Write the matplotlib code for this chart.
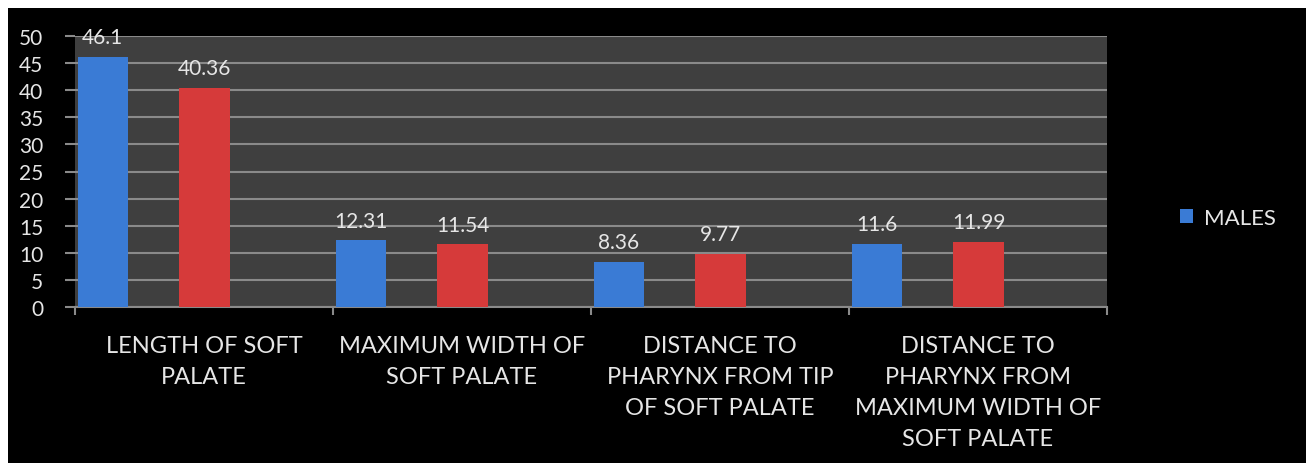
import matplotlib
matplotlib.use("Agg")
import matplotlib.pyplot as plt
from matplotlib.patches import Rectangle
import numpy as np

# datos
categories = [
    "LENGTH OF SOFT\nPALATE",
    "MAXIMUM WIDTH OF\nSOFT PALATE",
    "DISTANCE TO\nPHARYNX FROM TIP\nOF SOFT PALATE",
    "DISTANCE TO\nPHARYNX FROM\nMAXIMUM WIDTH OF\nSOFT PALATE",
]
males = [46.1, 12.31, 8.36, 11.6]
females = [40.36, 11.54, 9.77, 11.99]
male_labels = ["46.1", "12.31", "8.36", "11.6"]
female_labels = ["40.36", "11.54", "9.77", "11.99"]
yticks = [0, 5, 10, 15, 20, 25, 30, 35, 40, 45, 50]

plt.rcParams['font.family'] = ['Lato', 'DejaVu Sans']
txt_color = '#e6e6e6'
grid_color = '#8a8a8a'

fig = plt.figure(figsize=(13.06, 4.64), dpi=100)
fig.patch.set_facecolor('white')

# fondo negro (con borde blanco arriba e izquierda)
bg = Rectangle((8 / 1306, 0), 1 - 8 / 1306, (464 - 9) / 464, transform=fig.transFigure,
               facecolor='black', edgecolor='none', zorder=-10)
fig.patches.append(bg)

ax = fig.add_axes([75 / 1306, (464 - 308) / 464, (1107 - 75) / 1306, (308 - 37) / 464])
ax.set_facecolor('#3f3f3f')

x = np.arange(len(categories))
w = 0.195
bm = ax.bar(x + 0.01, males, width=w, align='edge', color='#3a7bd5', label='MALES', zorder=3)
bf = ax.bar(x + 0.405, females, width=w, align='edge', color='#d63a3a', zorder=3)

for rect, lab in zip(bm, male_labels):
    ax.text(rect.get_x() + rect.get_width() / 2, rect.get_height() + 1.8, lab,
            ha='center', va='bottom', color=txt_color, fontsize=15)
for rect, lab in zip(bf, female_labels):
    ax.text(rect.get_x() + rect.get_width() / 2, rect.get_height() + 1.8, lab,
            ha='center', va='bottom', color=txt_color, fontsize=15)

ax.set_xlim(0, len(categories))
ax.set_ylim(0, 50)
ax.set_yticks(yticks)
ax.yaxis.grid(True, color=grid_color, linewidth=1.5, zorder=1)
ax.set_axisbelow(True)

ax.set_xticks(x + 0.5)
ax.set_xticklabels(categories, linespacing=1.6)
ax.set_xticks(np.arange(len(categories) + 1), minor=True)
ax.tick_params(axis='x', which='major', length=0, pad=20, labelsize=17, labelcolor=txt_color)
ax.tick_params(axis='x', which='minor', length=6, width=1.5, color=grid_color, direction='out')
ax.tick_params(axis='y', length=7, width=1.5, color=grid_color, pad=16, labelsize=15,
               labelcolor=txt_color)

for s in ['top', 'right']:
    ax.spines[s].set_visible(False)
ax.spines['left'].set_visible(False)
ax.spines['bottom'].set_color(grid_color)
ax.spines['bottom'].set_linewidth(1.5)

leg = fig.legend(handles=[bm], labels=['MALES'], loc='center left',
                 bbox_to_anchor=(1160 / 1306, (464 - 219) / 464), frameon=False,
                 fontsize=16, handlelength=0.6, handleheight=0.6, handletextpad=0.5)
for t in leg.get_texts():
    t.set_color(txt_color)

fig.savefig("out.png", dpi=100, facecolor=fig.get_facecolor())
